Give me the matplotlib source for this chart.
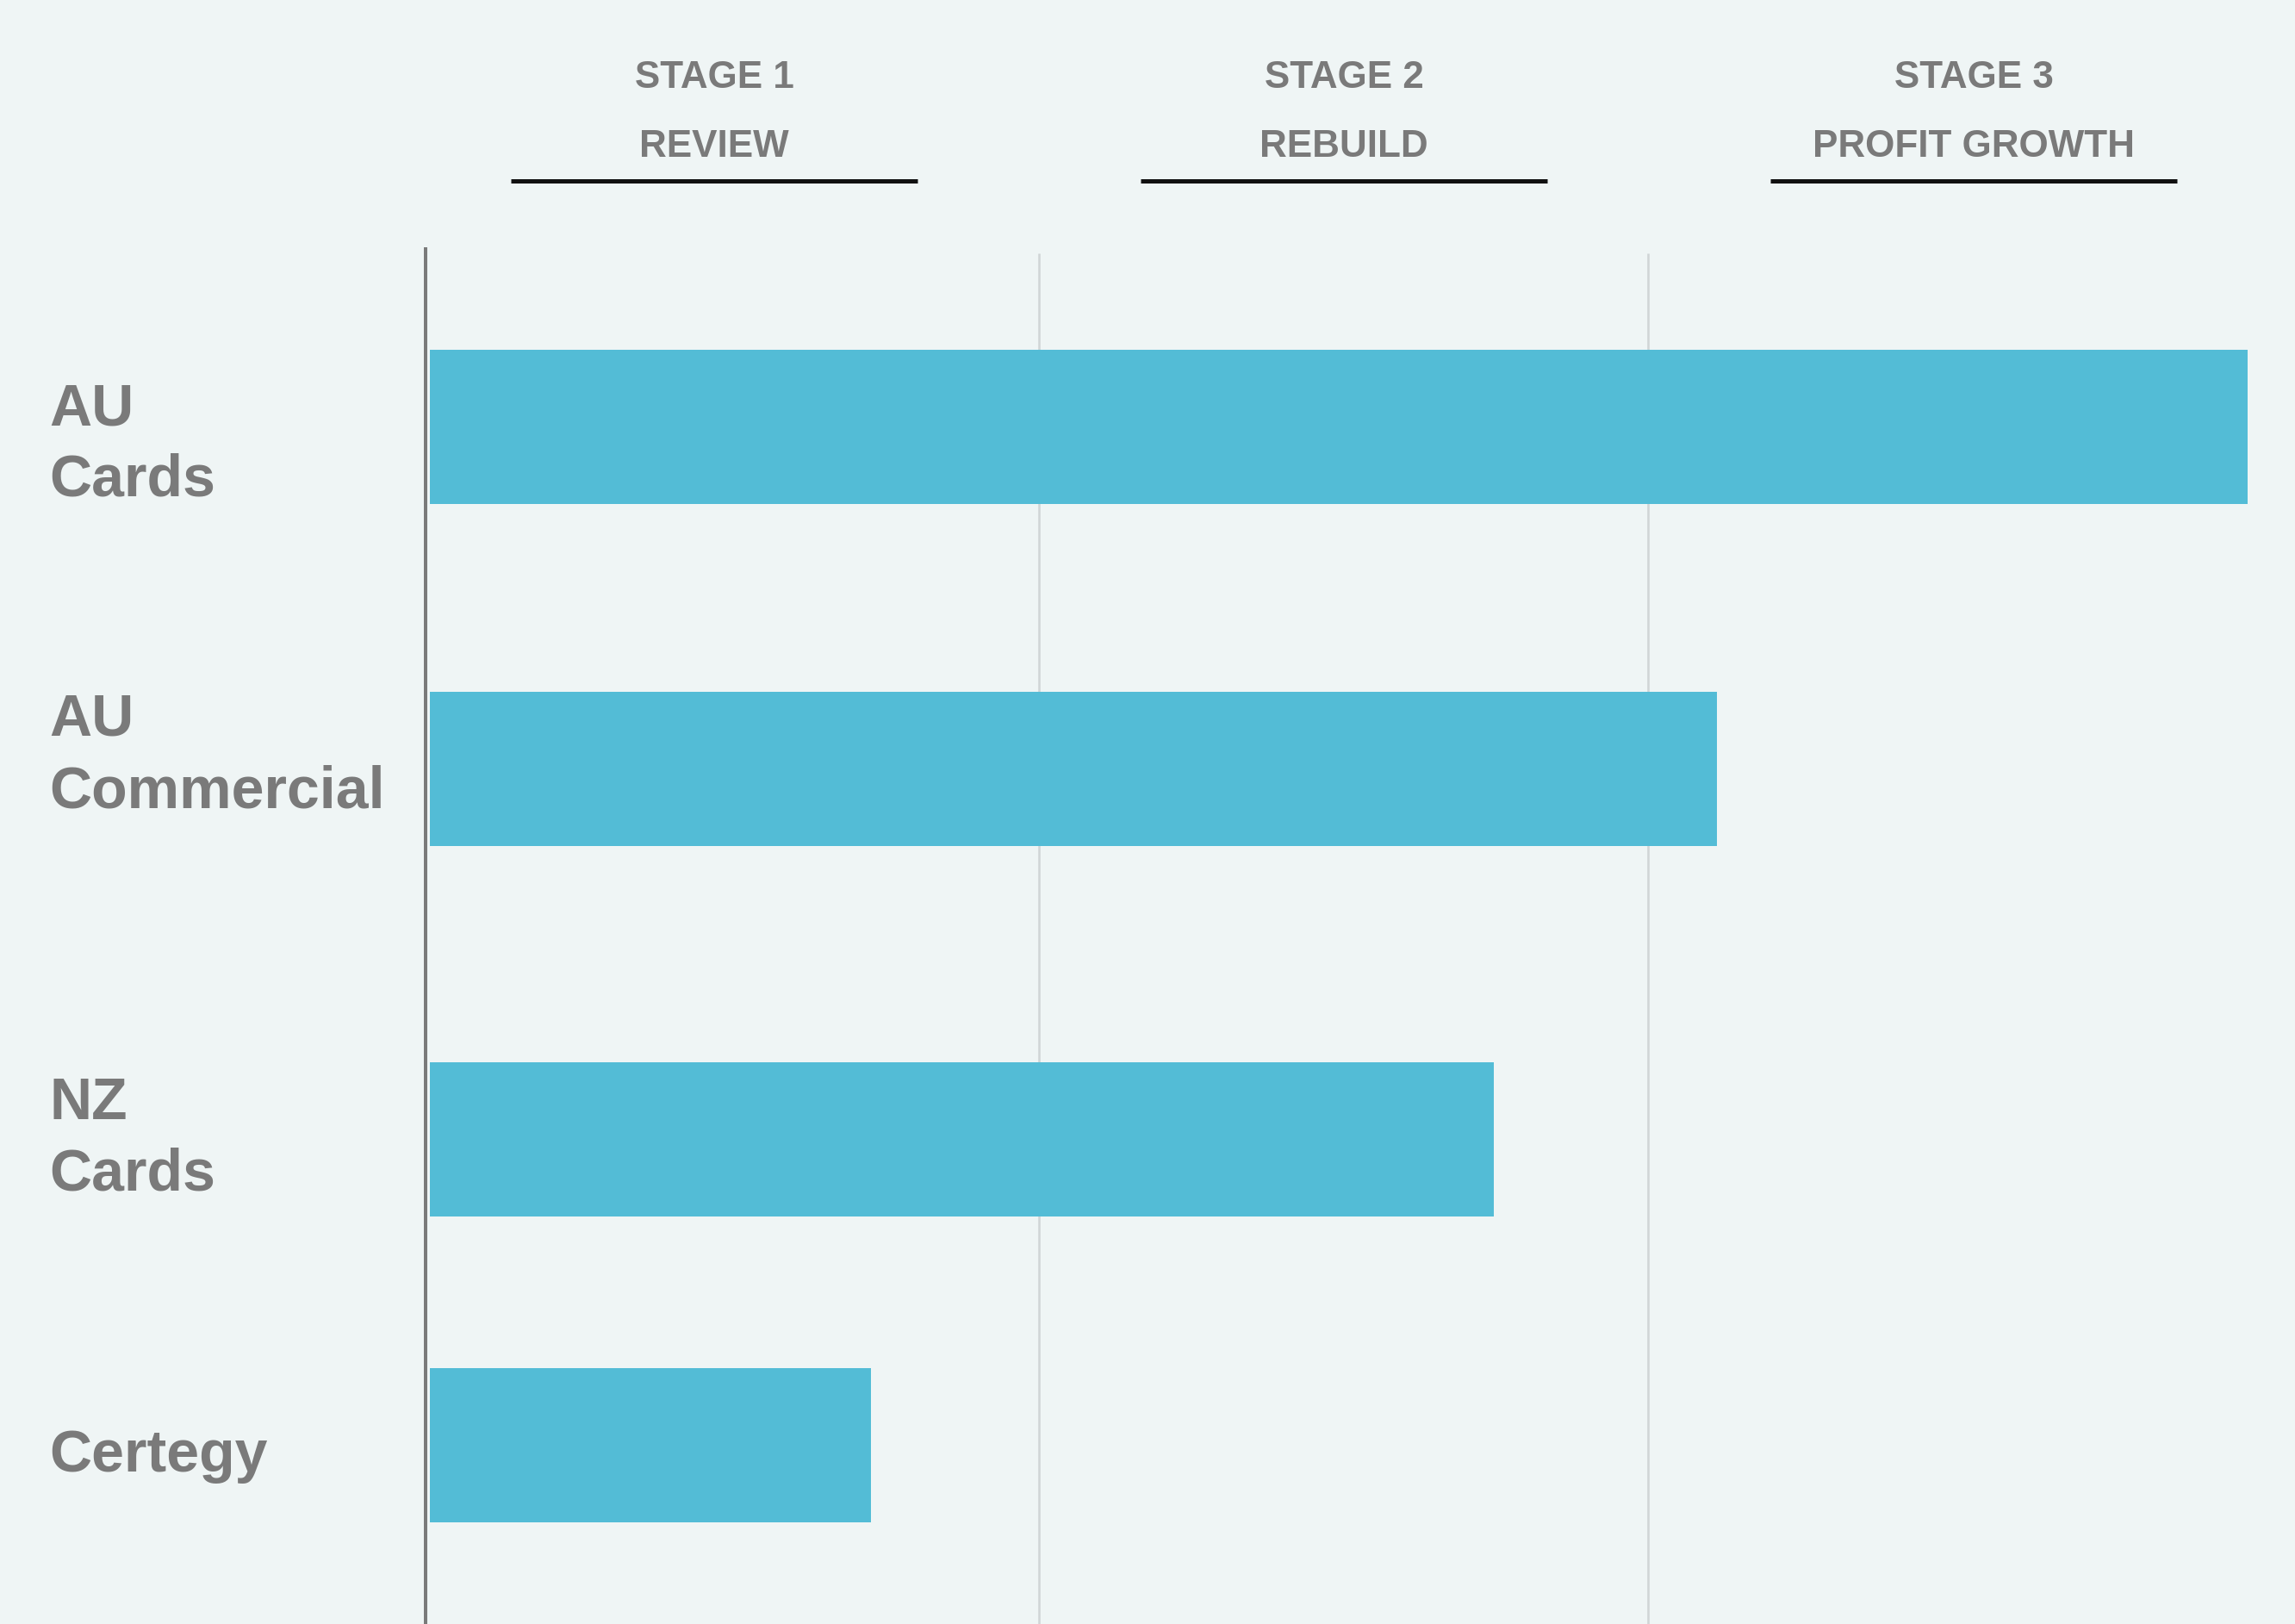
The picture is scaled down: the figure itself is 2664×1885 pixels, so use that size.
import matplotlib
matplotlib.use("Agg")
import matplotlib.pyplot as plt

# ---- data -------------------------------------------------------------
businesses = ["AU\nCards", "AU\nCommercial", "NZ\nCards", "Certegy"]
progress = [2.985, 2.113, 1.747, 0.724]          # position along the 3-stage path
stage_numbers = ["STAGE 1", "STAGE 2", "STAGE 3"]
stage_names = ["REVIEW", "REBUILD", "PROFIT GROWTH"]

# ---- style / layout ---------------------------------------------------
W, H, DPI = 2664, 1885, 200
BG = "#eff5f5"
BAR = "#53bcd6"
GREY = "#7a7a7a"
GRID = "#d0d5d6"
FONT = "Liberation Sans"

row_centres = [496, 893, 1323, 1678]     # px from top of the figure
label_baselines = [576, 937, 1382, 1708]  # baseline of each label's last line
bar_height = 179
axis_left_px, axis_top_px = 494, 289
unit_px = 707                            # width of one stage
zero_px = 499

plt.rcParams["font.family"] = [FONT, "DejaVu Sans"]

fig = plt.figure(figsize=(W / DPI, H / DPI), dpi=DPI, facecolor=BG)

ax = fig.add_axes([axis_left_px / W, 0, 1 - axis_left_px / W, 1 - axis_top_px / H])
ax.set_facecolor(BG)
ax.set_xlim((axis_left_px - zero_px) / unit_px, (W - zero_px) / unit_px)
ax.set_ylim(H, axis_top_px)

# stage boundaries
ax.vlines([1, 2], H, 294, color=GRID, lw=2.6 * 72 / DPI, zorder=1)

ax.barh(row_centres, progress, height=bar_height, color=BAR, zorder=2)

for s in ["top", "right", "bottom"]:
    ax.spines[s].set_visible(False)
ax.spines["left"].set_color(GREY)
ax.spines["left"].set_linewidth(4 * 72 / DPI)
ax.set_xticks([])
ax.set_yticks([])

# row labels, one text per line
label_size = 68 * 72 / DPI
line_step = 83
for name, last_base in zip(businesses, label_baselines):
    lines = name.split("\n")
    for i, line in enumerate(lines):
        base = last_base - (len(lines) - 1 - i) * line_step
        fig.text(57 / W, 1 - base / H, line, fontsize=label_size, fontweight="bold",
                 color=GREY, ha="left", va="baseline")

# stage headers with underline
head_size = 44 * 72 / DPI
stage_centres = [829, 1560, 2291]
half_len = 236
for c, num, nm in zip(stage_centres, stage_numbers, stage_names):
    fig.text(c / W, 1 - 102 / H, num, fontsize=head_size, fontweight="bold",
             color=GREY, ha="center", va="baseline")
    fig.text(c / W, 1 - 182 / H, nm, fontsize=head_size, fontweight="bold",
             color=GREY, ha="center", va="baseline")
    fig.add_artist(plt.Line2D([(c - half_len) / W, (c + half_len) / W],
                              [1 - 210 / H, 1 - 210 / H],
                              transform=fig.transFigure, color="#111111",
                              lw=5 * 72 / DPI, solid_capstyle="butt"))

fig.savefig("out.png", dpi=DPI, facecolor=BG)
